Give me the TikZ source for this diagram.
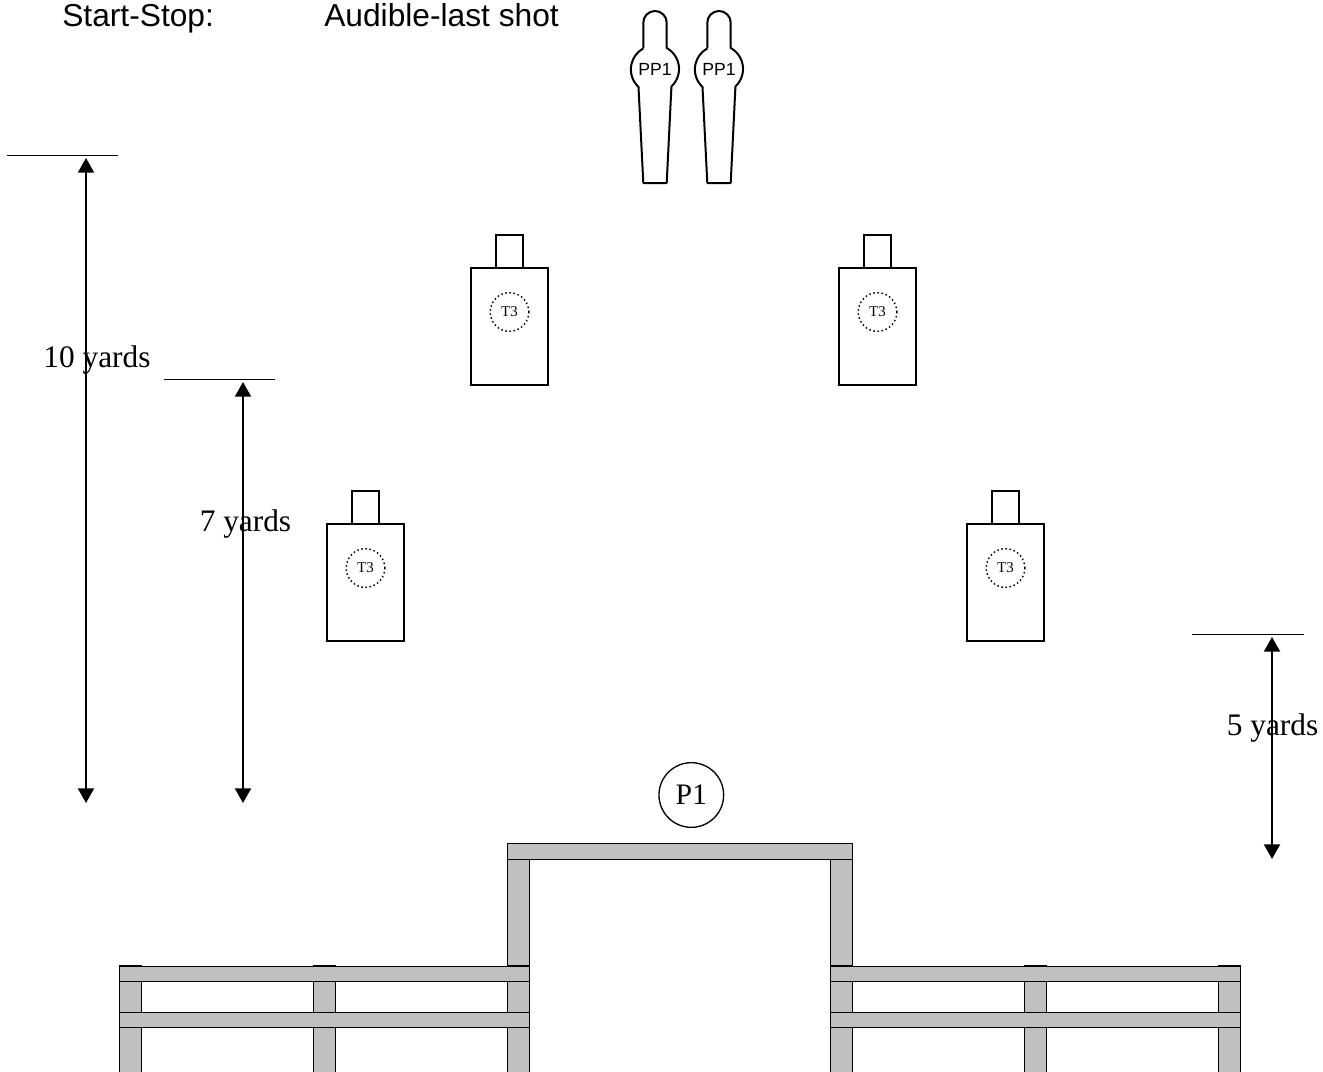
\documentclass[tikz,border=0pt]{standalone}
\usepackage{fontspec}
\setmainfont{Liberation Serif}
\newfontfamily\arialfont{Liberation Sans}
\usetikzlibrary{arrows.meta,positioning}
\definecolor{PlankGray}{HTML}{C0C0C0}

\begin{document}
\begin{tikzpicture}[x=0.75pt,y=-0.75pt,>={Triangle[length=11pt,width=12pt]}]
  \tikzset{
    targetbody/.style={draw, line width=1.1pt, minimum width=57.75pt, minimum height=87.75pt, inner sep=0pt, outer sep=0pt},
    targethead/.style={draw, line width=1.1pt, minimum width=20.25pt, minimum height=24.75pt, inner sep=0pt, outer sep=0pt},
    targetring/.style={draw, circle, dotted, line width=1.1pt, minimum size=29pt, inner sep=0pt, font=\fontsize{11.2}{13}\selectfont},
    popper/.style={draw, line width=1.5pt, line join=round},
    plank/.style={draw, fill=PlankGray, line width=0.75pt},
    tickline/.style={line width=0.8pt},
    dimline/.style={<->, line width=1.5pt},
    dimlabel/.style={inner sep=0pt, font=\fontsize{23.5}{26}\selectfont},
    headline/.style={inner sep=0pt, anchor=base west, font=\arialfont\fontsize{23.8}{26}\selectfont}
  }
  \clip (0,0) rectangle (1323,1071);

  \node[headline] (startstop) at (62,26.5) {Start-Stop:};
  \node[headline] (audible) at (324,26.5) {Audible-last shot};

  \foreach \name/\cx in {pa/655,pb/719}{
    \draw[popper] (\cx-11.7,48) -- (\cx-11.7,22.7) arc[start angle=180, end angle=360, x radius=11.7, y radius=11.7]
      -- (\cx+11.7,48) arc[start angle=61, end angle=-47, x radius=24, y radius=-24]
      -- (\cx+11.7,183) -- (\cx-11.7,183) -- (\cx-16.5,87) arc[start angle=227, end angle=119, x radius=24, y radius=-24];
    \node[inner sep=0pt, font=\arialfont\fontsize{13.2}{15}\selectfont] (\name) at (\cx,69.5) {PP1};
  }

  \foreach \name/\cx/\cy in {ta/509.5/326.5,tb/877.5/326.5,tc/365.5/582.5,td/1005.5/582.5}{
    \node[targetbody] (\name) at (\cx,\cy) {};
    \node[targethead, above=0pt of \name] (\name h) {};
    \node[targetring] (\name r) at (\cx,\cy-14.5) {T3};
  }

  \foreach \cx in {507,830}{
    \draw[plank] (\cx,859) rectangle (\cx+22,1076);
  }
  \foreach \cx in {119,313,507,830,1024,1218}{
    \draw[plank] (\cx,965.5) rectangle (\cx+22,1076);
  }
  \draw[plank] (507,843) rectangle (852,859);
  \foreach \bx/\ex in {119/529,830/1240}{
    \draw[plank] (\bx,966) rectangle (\ex,981);
    \draw[plank] (\bx,1012) rectangle (\ex,1027);
  }
  \node[draw, circle, line width=1pt, minimum size=48.5pt, inner sep=0pt, font=\fontsize{22.3}{25}\selectfont] (pone) at (691.3,795) {P1};

  \coordinate (tena) at (7,155.5);
  \coordinate (tenb) at (118,155.5);
  \coordinate (sevena) at (164,379.5);
  \coordinate (sevenb) at (275,379.5);
  \coordinate (fivea) at (1192,634.5);
  \coordinate (fiveb) at (1304,634.5);
  \foreach \a/\b in {tena/tenb,sevena/sevenb,fivea/fiveb}{\draw[tickline] (\a) -- (\b);}

  \coordinate (tentop) at (86,158);
  \coordinate (tenbot) at (86,803);
  \coordinate (seventop) at (243,382);
  \coordinate (sevenbot) at (243,803);
  \coordinate (fivetop) at (1272,637);
  \coordinate (fivebot) at (1272,859);
  \foreach \a/\b in {tentop/tenbot,seventop/sevenbot,fivetop/fivebot}{\draw[dimline] (\a) -- (\b);}

  \node[dimlabel] (tenlabel) at (97,360.5) {10 yards};
  \node[dimlabel] (sevenlabel) at (245.5,524.5) {7 yards};
  \node[dimlabel] (fivelabel) at (1272.5,727.5) {5 yards};
\end{tikzpicture}
\end{document}
